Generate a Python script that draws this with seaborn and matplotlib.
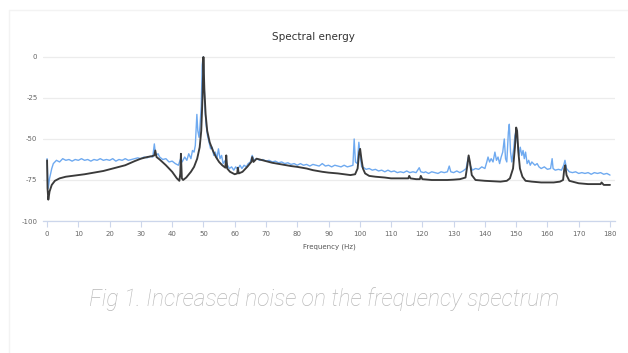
import numpy as np
import matplotlib
matplotlib.use('Agg')
import matplotlib.pyplot as plt
import pandas as pd
import seaborn as sns

# reference (dark) spectrum
ref_freq = [0, 0.15, 0.4, 0.8, 1.5, 2.5, 4, 6, 8, 10, 12, 15, 18, 20, 22, 25, 28, 30, 32,
            33.5, 34.3, 34.6, 35, 36, 38, 40, 41.5, 42.3, 42.6, 42.8, 43.1, 43.5, 44.5, 46,
            47, 48, 48.8, 49.3, 49.7, 50, 50.3, 50.7, 51.2, 52, 53, 54, 55, 56, 57, 57.3,
            57.6, 58.5, 60, 60.8, 61, 61.3, 62.5, 64, 65.3, 65.6, 66, 67, 68, 70, 72, 75,
            78, 80, 83, 85, 88, 90, 93, 95, 97, 98.5, 99.3, 99.8, 100.1, 100.5, 101, 101.7,
            103, 105, 108, 110, 113, 115.5, 115.8, 116.2, 118, 119.2, 119.5, 120, 123, 125,
            128, 130, 132, 133.8, 134.4, 134.8, 135.2, 135.8, 137, 140, 143, 145, 147, 148,
            149, 149.6, 150, 150.3, 150.7, 151.2, 152, 153, 155, 158, 160, 162, 164, 165,
            165.4, 165.7, 166.1, 167, 170, 173, 175, 177, 177.3, 178, 180]
ref_db = [-63, -80, -87, -82, -78, -75.5, -74, -73, -72.5, -72, -71.5, -70.5, -69.5, -68.5,
          -67.5, -66, -63.5, -62, -61, -60.5, -60, -57, -61, -62.5, -66, -70, -74, -75.5,
          -71, -59, -74, -75, -73.5, -70, -67, -62, -55, -45, -25, 0, -20, -35, -45, -52,
          -57, -61, -64, -66, -67.5, -60, -68, -70, -71.5, -71, -67.5, -71, -70, -67, -64,
          -61, -64, -62, -62.5, -63.5, -64.5, -65.5, -66.5, -67, -68, -69, -70, -70.5, -71,
          -71.5, -72, -71.5, -68, -58, -56, -62, -68, -71, -72.5, -73, -73.5, -74, -74,
          -74, -72.5, -74, -74.5, -74.5, -72.5, -74.5, -75, -75, -75, -74.8, -74.5, -73.5,
          -66, -60, -64, -72, -75, -75.5, -75.8, -76, -75.5, -74, -68, -55, -43, -45, -58,
          -68, -73, -75.5, -76, -76.5, -76.5, -76.5, -76, -75, -68, -66, -72, -75.5, -77,
          -77.5, -77.5, -77.5, -76.5, -78, -78]

# noisy (blue) spectrum
noisy_freq = [0, 0.2, 0.4, 0.8, 1.5, 2, 3, 4, 5, 6, 7, 8, 9, 10, 11, 12, 13, 14, 15, 16, 17,
              18, 19, 20, 21, 22, 23, 24, 25, 26, 27, 28, 29, 30, 31, 32, 33, 33.8, 34.3,
              34.7, 35.5, 36, 37, 38, 39, 40, 41, 42, 42.7, 43.2, 44, 44.7, 45.3, 46, 46.5,
              47, 47.4, 47.9, 48.2, 48.6, 48.9, 49.3, 49.6, 49.9, 50.2, 50.5, 50.9, 51.3,
              51.8, 52.3, 52.8, 53.3, 53.8, 54.3, 54.8, 55.3, 55.8, 56.3, 57, 57.7, 58.3, 59,
              59.7, 60.3, 61, 61.7, 62.3, 63, 63.7, 64.3, 65, 65.6, 66.2, 67, 68, 69, 70, 71,
              72, 73, 74, 75, 76, 77, 78, 79, 80, 81, 82, 83, 84, 85, 86, 87, 88, 89, 90, 91,
              92, 93, 94, 95, 96, 97, 97.8, 98.2, 98.6, 99.2, 99.7, 100.1, 100.6, 101.3, 102,
              103, 104, 105, 106, 107, 108, 109, 110, 111, 112, 113, 114, 115, 116, 117, 118,
              119, 119.5, 120.5, 121, 122, 123, 124, 125, 126, 127, 128, 128.6, 129.1, 130,
              131, 132, 133, 134, 134.7, 135.3, 136, 137, 138, 139, 140, 140.6, 141, 141.5,
              142, 142.6, 143.2, 143.7, 144.2, 144.7, 145.2, 145.7, 146.2, 146.6, 147, 147.5,
              147.8, 148.2, 148.6, 149.2, 149.6, 150, 150.4, 150.9, 151.3, 151.8, 152.2,
              152.6, 153, 153.5, 154, 154.5, 155, 156, 156.7, 157.3, 158, 159, 160, 161,
              161.5, 161.8, 162.5, 163.5, 164.5, 165.2, 165.6, 166.1, 167, 168, 169, 170,
              171, 172, 173, 174, 175, 176, 177, 178, 179, 180]
noisy_db = [-62, -72, -80, -74, -68, -65, -63, -64, -62, -63, -62.5, -63.5, -62.5, -63, -62,
            -63, -62.5, -63.5, -62.5, -63, -62, -63, -62.5, -63, -62, -63.5, -62.5, -63, -62,
            -63, -62.5, -62, -61.5, -62, -61, -61.5, -60.5, -61, -53, -60, -59, -61, -62.5,
            -62, -64, -63.5, -65, -66, -62, -64, -61, -63, -59, -62, -57, -58, -54, -35, -45,
            -49, -42, -30, -5, 0, -15, -32, -42, -48, -52, -56, -55, -60, -58, -62, -56, -62,
            -60, -65, -63, -66, -68, -67, -69, -67, -68.5, -66, -68, -66, -67, -65, -64, -60,
            -63, -62, -63, -62.5, -63.5, -63, -64, -63.5, -64.5, -64, -65, -64.5, -65.5, -65,
            -66, -65, -66, -65.5, -66.5, -65.5, -66, -66.5, -65, -66.5, -66, -67, -66, -66.5,
            -67, -66, -67, -66.5, -66, -50, -64, -65, -52, -60, -67, -67.5, -68.5, -68, -69,
            -68.5, -69.5, -69, -70, -69, -70, -69.5, -70.5, -70, -70.5, -69.5, -70.5, -70,
            -70.5, -67.5, -70, -70.5, -70, -71, -70, -70.5, -71, -70, -70.5, -70, -66.5, -70,
            -70.5, -69.5, -70.5, -69.5, -68, -61, -66, -69, -68, -68.5, -67, -68, -64, -61,
            -64, -62, -64, -58, -63, -61, -65, -61, -58, -50, -62, -64, -46, -41, -58, -64,
            -56, -48, -45, -52, -60, -55, -60, -57, -62, -58, -65, -63, -66, -64, -66, -65,
            -67, -68, -67, -68.5, -68, -62, -68, -69, -68.5, -69, -66, -63, -68, -70, -70.5,
            -70, -71, -70.5, -71, -70.5, -71.5, -70.5, -71, -70.5, -71.5, -71, -72]

x_ticks = list(range(0, 181, 10))
y_ticks = [0, -25, -50, -75, -100]

sns.set_theme(style='white')
plt.rcParams['font.family'] = ['DejaVu Sans']

fig = plt.figure(figsize=(6.28, 3.53), dpi=100)
ax = fig.add_axes([43 / 628, 1 - 221 / 353, (615 - 43) / 628, (221 - 56) / 353])

noisy = pd.DataFrame({'freq': noisy_freq, 'db': noisy_db})
ref = pd.DataFrame({'freq': ref_freq, 'db': ref_db})
sns.lineplot(data=noisy, x='freq', y='db', ax=ax, color='#6faaf0', lw=1.0,
             estimator=None, sort=False)
sns.lineplot(data=ref, x='freq', y='db', ax=ax, color='#3a3a3a', lw=1.35,
             estimator=None, sort=False)

ax.set_xlim(-1.3, 181.6)
ax.set_ylim(-100, 0.6)
ax.set_xticks(x_ticks)
ax.set_yticks(y_ticks)
ax.set_xticklabels([str(t) for t in x_ticks], fontsize=5, color='#666666')
ax.set_yticklabels([str(t) for t in y_ticks], fontsize=5, color='#666666')
ax.yaxis.grid(True, color='#ececec', lw=0.9)
ax.tick_params(axis='x', length=4, width=0.8, color='#ccd6eb', pad=3, bottom=True)
ax.tick_params(axis='y', length=0, pad=4)
for s in ['left', 'right', 'top']:
    ax.spines[s].set_visible(False)
ax.spines['bottom'].set_color('#ccd6eb')
ax.spines['bottom'].set_linewidth(0.9)
ax.set_xlabel('Frequency (Hz)', fontsize=5, color='#555555', labelpad=5)
ax.set_ylabel('')

fig.text(313 / 628, 1 - 37 / 353, 'Spectral energy', ha='center', va='center',
         fontsize=7.5, color='#333333')
fig.text(324 / 628, 1 - 299 / 353, 'Fig 1. Increased noise on the frequency spectrum',
         ha='center', va='center', fontsize=16.5, color='#b8b8b8', style='italic',
         family=['Roboto', 'DejaVu Sans'], fontweight='light')

# faint card border
fig.add_artist(plt.Line2D([9 / 628, 9 / 628], [0, 1 - 10 / 353], color='#f3f3f3', lw=1))
fig.add_artist(plt.Line2D([9 / 628, 1], [1 - 10 / 353, 1 - 10 / 353], color='#f3f3f3', lw=1))

fig.savefig('out.png', dpi=100)
